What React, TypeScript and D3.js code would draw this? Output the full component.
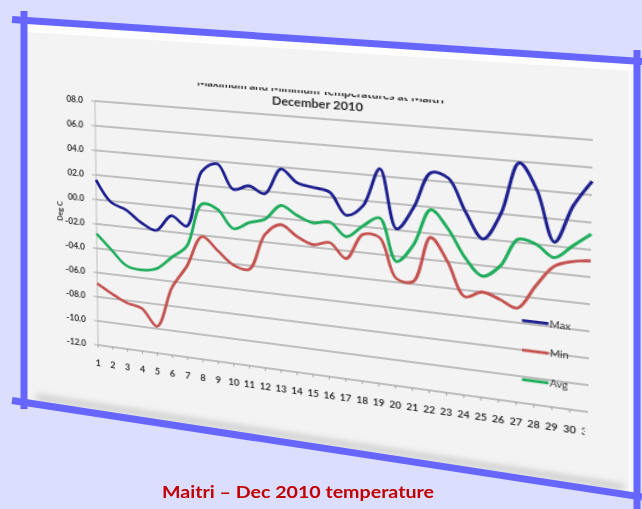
import * as d3 from "d3";

// December 2010, Maitri — daily values
const days = [
  1, 2, 3, 4, 5, 6, 7, 8, 9, 10, 11, 12, 13, 14, 15, 16, 17, 18, 19, 20, 21,
  22, 23, 24, 25, 26, 27, 28, 29, 30, 31,
];
const maxTemp = [
  1.6, -0.1, -0.6, -1.5, -2.0, -0.7, -1.4, 3.1, 3.8, 1.9, 2.3, 1.8, 3.85, 2.9,
  2.65, 2.4, 0.75, 1.6, 4.55, 0.1, 1.85, 4.6, 4.3, 1.9, 0.0, 2.0, 5.9, 4.0, 0.3,
  3.1, 5.0,
];
const minTemp = [
  -6.9, -7.6, -8.2, -8.5, -9.8, -6.5, -4.6, -2.1, -3.1, -4.1, -4.3, -1.4, -0.5,
  -1.3, -1.8, -1.5, -2.6, -0.6, -0.7, -3.7, -3.8, -0.3, -2.0, -4.5, -4.0, -4.4,
  -4.9, -3.1, -1.5, -1.0, -0.8,
];
const avgTemp = [
  -2.8, -4.0, -5.15, -5.35, -5.1, -4.05, -3.0, 0.5, 0.2, -1.2, -0.6, -0.2, 1.0,
  0.35, -0.1, 0.1, -0.9, 0.05, 0.8, -2.4, -1.0, 1.8, 0.5, -1.55, -2.8, -1.9,
  0.25, 0.0, -0.85, 0.15, 1.15,
];
const yTicks = [8, 6, 4, 2, 0, -2, -4, -6, -8, -10, -12];
const seriesNames = ["Max", "Min", "Avg"];
const seriesColors = ["#1d1f8e", "#c45350", "#1fad5c"];

const W = 642;
const H = 509;

// flat chart, before the photo's perspective
const FW = 600;
const FH = 400;
const PL = 70;
const PT = 70;
const PW = 445;
const PH = 250;

// where the plot corners ended up in the photo
const plotQuad: [number, number][] = [
  [95, 101],
  [593, 140],
  [588, 412],
  [98, 345],
];

type M3 = number[][];

function solve(A: number[][], b: number[]) {
  const n = b.length;
  const M = A.map((r, i) => [...r, b[i]]);
  for (let c = 0; c < n; c++) {
    let p = c;
    for (let r = c + 1; r < n; r++) if (Math.abs(M[r][c]) > Math.abs(M[p][c])) p = r;
    [M[c], M[p]] = [M[p], M[c]];
    for (let r = 0; r < n; r++) {
      if (r === c) continue;
      const f = M[r][c] / M[c][c];
      for (let k = c; k <= n; k++) M[r][k] -= f * M[c][k];
    }
  }
  return M.map((r, i) => r[n] / r[i]);
}

function homography(src: [number, number][], dst: [number, number][]): M3 {
  const A: number[][] = [];
  const b: number[] = [];
  src.forEach(([x, y], i) => {
    const [X, Y] = dst[i];
    A.push([x, y, 1, 0, 0, 0, -x * X, -y * X]);
    b.push(X);
    A.push([0, 0, 0, x, y, 1, -x * Y, -y * Y]);
    b.push(Y);
  });
  const h = solve(A, b);
  return [
    [h[0], h[1], h[2]],
    [h[3], h[4], h[5]],
    [h[6], h[7], 1],
  ];
}

function invert3(m: M3): M3 {
  const [[a, b, c], [d, e, f], [g, h, i]] = m;
  const A = e * i - f * h;
  const B = -(d * i - f * g);
  const C = d * h - e * g;
  const det = a * A + b * B + c * C;
  return [
    [A / det, -(b * i - c * h) / det, (b * f - c * e) / det],
    [B / det, (a * i - c * g) / det, -(a * f - c * d) / det],
    [C / det, -(a * h - b * g) / det, (a * e - b * d) / det],
  ];
}

function apply(m: M3, [x, y]: [number, number]) {
  const w = m[2][0] * x + m[2][1] * y + m[2][2];
  return [
    (m[0][0] * x + m[0][1] * y + m[0][2]) / w,
    (m[1][0] * x + m[1][1] * y + m[1][2]) / w,
  ];
}

const Hm = homography(
  [
    [PL, PT],
    [PL + PW, PT],
    [PL + PW, PT + PH],
    [PL, PT + PH],
  ],
  plotQuad
);
const Hinv = invert3(Hm);
const toFlat = (p: [number, number]) => apply(Hinv, p);
const cssMatrix = `matrix3d(${Hm[0][0]},${Hm[1][0]},0,${Hm[2][0]},${Hm[0][1]},${Hm[1][1]},0,${Hm[2][1]},0,0,1,0,${Hm[0][2]},${Hm[1][2]},0,${Hm[2][2]})`;

const fmt = (v: number) =>
  (v < 0 ? "-" : "") + String(Math.abs(v)).padStart(2, "0") + ".0";

const font = "Lato, 'Open Sans', sans-serif";

function Chart() {
  const x = d3.scalePoint<number>().domain(days).range([PL, PL + PW]);
  const y = d3.scaleLinear().domain([-12, 8]).range([PT + PH, PT]);
  const line = d3
    .line<number>()
    .x((_, i) => x(days[i])!)
    .y((d) => y(d))
    .curve(d3.curveCatmullRom.alpha(0.5));

  const series = [maxTemp, minTemp, avgTemp].map((values, i) => ({
    name: seriesNames[i],
    values,
    color: seriesColors[i],
  }));

  const [tx, ty] = toFlat([317, 108]);
  const [dx, dy] = toFlat([60, 211]);
  const legendPos = [
    toFlat([522, 320.5]),
    toFlat([522, 350]),
    toFlat([522, 379.5]),
  ];

  return (
    <svg width={FW} height={FH} style={{ display: "block", overflow: "visible" }}>
      <defs>
        <clipPath id="crop">
          <rect x={0} y={ty - 16} width={FW} height={FH} />
        </clipPath>
        <clipPath id="cropRight">
          <rect x={0} y={0} width={PL + PW - 2.5} height={FH} />
        </clipPath>
      </defs>
      <g clipPath="url(#crop)" fontFamily={font}>
        <text x={tx} y={ty - 13.5} textAnchor="middle" fontSize={10.5} fontWeight="bold" fill="#2a2a2a">
          Maximum and Minimum Temperatures at Maitri
        </text>
        <text x={tx} y={ty} textAnchor="middle" fontSize={11.5} fontWeight="bold" fill="#2a2a2a">
          December 2010
        </text>

        {yTicks.map((t) => (
          <g key={t}>
            <line x1={PL} x2={PL + PW} y1={y(t)} y2={y(t)} stroke="#8a8a8a" strokeWidth={1.1} />
            <line x1={PL - 4} x2={PL} y1={y(t)} y2={y(t)} stroke="#9a9a9a" strokeWidth={0.8} />
            <text x={PL - 12} y={y(t)} dy="0.35em" textAnchor="end" fontSize={8.5} fontWeight="bold" fill="#333">
              {fmt(t)}
            </text>
          </g>
        ))}
        <line x1={PL} x2={PL} y1={PT} y2={PT + PH} stroke="#b0b0b0" strokeWidth={0.8} />

        <g clipPath="url(#cropRight)">
          {days.map((d) => (
            <g key={d}>
              <line x1={x(d)} x2={x(d)} y1={PT + PH} y2={PT + PH + 3} stroke="#9a9a9a" strokeWidth={0.8} />
              <text x={x(d)} y={PT + PH + 19} dy="0.35em" textAnchor="middle" fontSize={9} fontWeight="bold" fill="#333">
                {d}
              </text>
            </g>
          ))}
        </g>

        <text
          transform={`translate(${dx},${dy}) rotate(-90)`}
          textAnchor="middle"
          dy="0.35em"
          fontSize={7.5}
          fontWeight="bold"
          fill="#333"
        >
          Deg C
        </text>

        {series.map((s) => (
          <path key={s.name} d={line(s.values) ?? ""} fill="none" stroke={s.color} strokeWidth={2.8} strokeLinejoin="round" />
        ))}

        {series.map((s, i) => {
          const [lx, ly] = legendPos[i];
          return (
            <g key={s.name}>
              <line x1={lx} x2={lx + 22} y1={ly} y2={ly} stroke={s.color} strokeWidth={2.8} />
              <text x={lx + 23} y={ly} dy="0.35em" fontSize={9} fill="#333">
                {s.name}
              </text>
            </g>
          );
        })}
      </g>
    </svg>
  );
}

export default function App() {
  const frame = "#6666ff";
  return (
    <div
      style={{
        position: "absolute",
        left: 0,
        top: 0,
        width: W,
        height: H,
        overflow: "hidden",
        background: "#dcdeff",
      }}
    >
      <svg width={W} height={H} style={{ position: "absolute", left: 0, top: 0 }}>
        <defs>
          <filter id="soft" x="-20%" y="-20%" width="140%" height="140%">
            <feGaussianBlur stdDeviation="3" />
          </filter>
        </defs>
        <polygon points="27,23 634,63 634,494 27,399" fill="#f3f3f3" />
        <polygon points="27,23 634,63 634,71 27,32" fill="#fdfdfd" />
        <line x1={36} y1={397} x2={624} y2={487} stroke="#c4c4c4" strokeWidth={5} filter="url(#soft)" />
        <line x1={623} y1={74} x2={623} y2={484} stroke="#bcbcbc" strokeWidth={7} filter="url(#soft)" />
        <line x1={630} y1={66} x2={630} y2={492} stroke="#fbfbfb" strokeWidth={2} />
      </svg>

      <div
        style={{
          position: "absolute",
          left: 0,
          top: 0,
          width: FW,
          height: FH,
          transformOrigin: "0 0",
          transform: cssMatrix,
          filter: "blur(0.3px)",
        }}
      >
        <Chart />
      </div>

      <svg width={W} height={H} style={{ position: "absolute", left: 0, top: 0 }}>
        <g stroke={frame} strokeWidth={7}>
          <line x1={12} y1={19.5} x2={642} y2={61.5} />
          <line x1={12} y1={400.5} x2={642} y2={497} />
          <line x1={24} y1={11} x2={24} y2={409} />
          <line x1={637} y1={50} x2={637} y2={509} />
        </g>
        <text
          x={298}
          y={498}
          textAnchor="middle"
          fontFamily={font}
          fontWeight="bold"
          fontSize={17}
          fill="#c00000"
          textLength={272}
          lengthAdjust="spacingAndGlyphs"
        >
          Maitri – Dec 2010 temperature
        </text>
      </svg>
    </div>
  );
}
